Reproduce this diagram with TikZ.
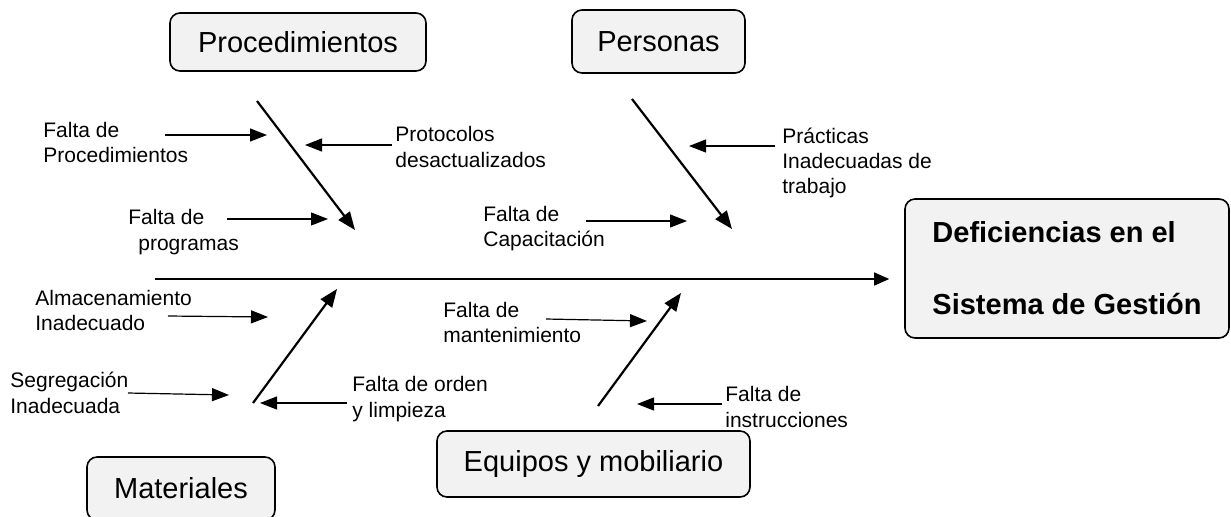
\documentclass[tikz,border=0pt]{standalone}
\usepackage{fontspec}
\setmainfont{Liberation Sans}
\usetikzlibrary{arrows.meta}
\begin{document}
\begin{tikzpicture}[x=0.5pt,y=-0.5pt,
  box/.style={draw=black,line width=0.8pt,rounded corners=5pt,fill=black!5,inner sep=0pt,font=\fontsize{14.5}{17}\selectfont},
  lbl/.style={anchor=west,inner sep=0pt,align=left,font=\fontsize{10.5}{12.7}\selectfont},
  sub/.style={line width=0.6pt,-{Triangle[length=8.5pt,width=6.5pt]}},
  bone/.style={line width=1.1pt,-{Triangle[length=9pt,width=7pt]}},
  spine/.style={line width=0.6pt,-{Triangle[length=7.5pt,width=6.5pt]}}]
\clip (0,0) rectangle (1231,516);
\fill[white] (0,0) rectangle (1231,516);

% category boxes
\node[box,minimum width=128pt,minimum height=29pt] (proc) at (298,42) {Procedimientos};
\node[box,minimum width=86.5pt,minimum height=31.5pt] (pers) at (658.5,41.5) {Personas};
\node[box,minimum width=94pt,minimum height=31.5pt] (mat) at (181,488.5) {Materiales};
\node[box,minimum width=156.5pt,minimum height=33pt] (equ) at (593.5,464) {Equipos y mobiliario};
\node[box,minimum width=162pt,minimum height=69.5pt,align=left,font=\fontsize{14.5}{36}\selectfont\bfseries] (def) at (1067,268.5) {Deficiencias en el\\Sistema de Gestión};

% spine
\coordinate (s0) at (155,279);
\draw[spine,shorten >=7.5pt] (s0) -- (def.west |- s0);

% bones
\coordinate (b1s) at (257,101); \coordinate (b1e) at (355,230);
\coordinate (b2s) at (632,99);  \coordinate (b2e) at (732,229);
\coordinate (b3s) at (253,403); \coordinate (b3e) at (337,289);
\coordinate (b4s) at (598,406); \coordinate (b4e) at (681,293);
\draw[bone] (b1s) -- (b1e);
\draw[bone] (b2s) -- (b2e);
\draw[bone] (b3s) -- (b3e);
\draw[bone] (b4s) -- (b4e);

% labels
\node[lbl] (l1) at (43,142.5) {Falta de\\Procedimientos};
\node[lbl] (l2) at (395,147) {Protocolos\\desactualizados};
\node[lbl] (l3) at (128,232) {Falta de\\\hspace*{5pt}programas};
\node[lbl] (l4) at (483,228.5) {Falta de\\Capacitación};
\node[lbl] (l5) at (782,163) {Prácticas\\Inadecuadas de\\trabajo};
\node[lbl] (l6) at (35,310.5) {Almacenamiento\\Inadecuado};
\node[lbl] (l7) at (10,393) {Segregación\\Inadecuada};
\node[lbl] (l8) at (352,399) {Falta de orden\\y limpieza};
\node[lbl] (l9) at (443,322.5) {Falta de\\mantenimiento};
\node[lbl] (l10) at (725,407) {Falta de\\instrucciones};

% sub-cause arrows
\coordinate (a1s) at (165,135); \coordinate (a1e) at (267,135);
\coordinate (a2s) at (392,145); \coordinate (a2e) at (305,145);
\coordinate (a3s) at (227,219); \coordinate (a3e) at (328,219);
\coordinate (a4s) at (586,221); \coordinate (a4e) at (687,221);
\coordinate (a5s) at (775,146); \coordinate (a5e) at (689,146);
\coordinate (a6s) at (168,316); \coordinate (a6e) at (268,317);
\coordinate (a7s) at (128,393); \coordinate (a7e) at (229,395);
\coordinate (a8s) at (347,403); \coordinate (a8e) at (260,403);
\coordinate (a9s) at (546,319); \coordinate (a9e) at (647,321);
\coordinate (a10s) at (722,404); \coordinate (a10e) at (637,404);
\foreach \i in {1,...,10} {\draw[sub] (a\i s) -- (a\i e);}
\end{tikzpicture}
\end{document}
